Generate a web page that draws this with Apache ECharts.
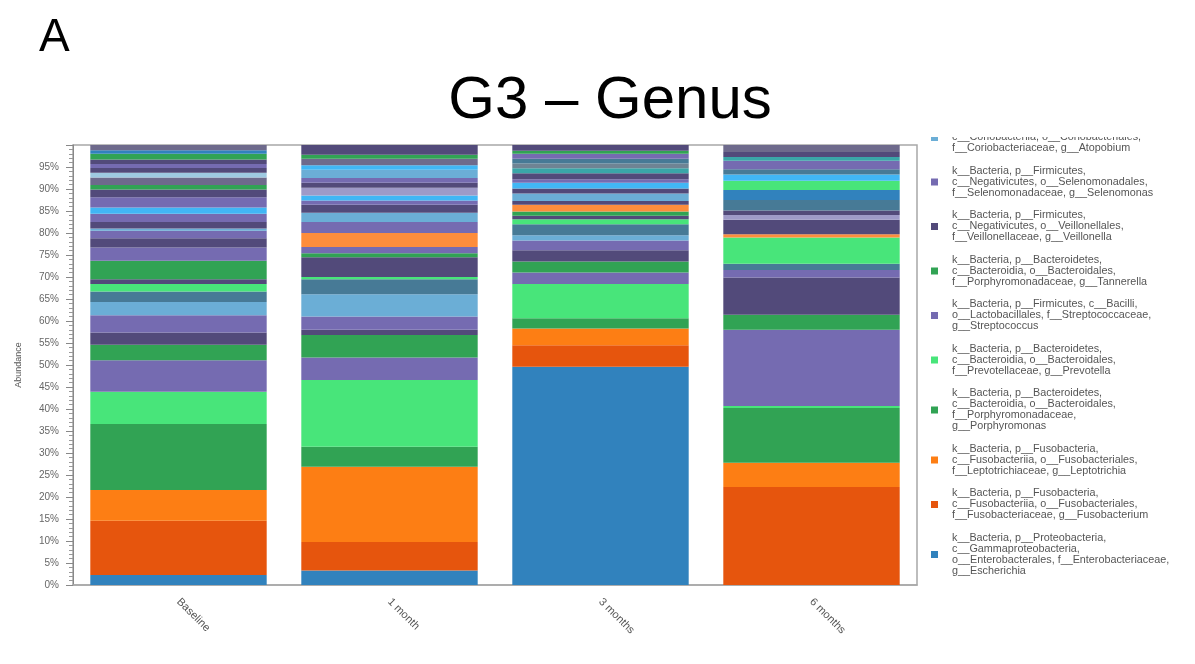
<!DOCTYPE html>
<html>
<head>
<meta charset="utf-8">
<script src="https://cdn.jsdelivr.net/npm/echarts@6/dist/echarts.min.js"></script>
<style>
html,body{margin:0;padding:0;background:#fff;}
#chart{width:1195px;height:664px;}
</style>
</head>
<body>
<div id="chart"></div>
<script>
// ---- data ----
const categories = ['Baseline', '1 month', '3 months', '6 months'];
const yTickValues = [0,5,10,15,20,25,30,35,40,45,50,55,60,65,70,75,80,85,90,95];

// named genera (bottom of stack first), % abundance per category
const escherichia   = [2.3, 3.3, 49.6, 0];
const fusobacterium = [12.3, 6.5, 4.9, 22.3];
const leptotrichia  = [7.0, 17.1, 3.8, 5.5];
const porphyromonas = [15.0, 4.5, 2.3, 12.4];
const prevotella    = [7.3, 15.2, 7.8, 0.5];
const streptococcus = [7.2, 5.1, 2.6, 17.3];
const tannerella    = [3.5, 5.1, 2.5, 3.4];
const veillonella   = [2.8, 1.2, 2.6, 8.5];
const selenomonas   = [3.9, 3.0, 2.2, 1.7];
const atopobium     = [3.0, 5.1, 1.2, 0];

const namedGenera = ['g__Escherichia','g__Fusobacterium','g__Leptotrichia','g__Porphyromonas','g__Prevotella',
  'g__Streptococcus','g__Tannerella','g__Veillonella','g__Selenomonas','g__Atopobium'];
const namedValues = [escherichia, fusobacterium, leptotrichia, porphyromonas, prevotella,
  streptococcus, tannerella, veillonella, selenomonas, atopobium];

// legend taxonomy labels
const legendLabels = {
  'g__Atopobium': ['k__Bacteria, p__Actinobacteria,', 'c__Coriobacteriia, o__Coriobacteriales,', 'f__Coriobacteriaceae, g__Atopobium'],
  'g__Selenomonas': ['k__Bacteria, p__Firmicutes,', 'c__Negativicutes, o__Selenomonadales,', 'f__Selenomonadaceae, g__Selenomonas'],
  'g__Veillonella': ['k__Bacteria, p__Firmicutes,', 'c__Negativicutes, o__Veillonellales,', 'f__Veillonellaceae, g__Veillonella'],
  'g__Tannerella': ['k__Bacteria, p__Bacteroidetes,', 'c__Bacteroidia, o__Bacteroidales,', 'f__Porphyromonadaceae, g__Tannerella'],
  'g__Streptococcus': ['k__Bacteria, p__Firmicutes, c__Bacilli,', 'o__Lactobacillales, f__Streptococcaceae,', 'g__Streptococcus'],
  'g__Prevotella': ['k__Bacteria, p__Bacteroidetes,', 'c__Bacteroidia, o__Bacteroidales,', 'f__Prevotellaceae, g__Prevotella'],
  'g__Porphyromonas': ['k__Bacteria, p__Bacteroidetes,', 'c__Bacteroidia, o__Bacteroidales,', 'f__Porphyromonadaceae,', 'g__Porphyromonas'],
  'g__Leptotrichia': ['k__Bacteria, p__Fusobacteria,', 'c__Fusobacteriia, o__Fusobacteriales,', 'f__Leptotrichiaceae, g__Leptotrichia'],
  'g__Fusobacterium': ['k__Bacteria, p__Fusobacteria,', 'c__Fusobacteriia, o__Fusobacteriales,', 'f__Fusobacteriaceae, g__Fusobacterium'],
  'g__Escherichia': ['k__Bacteria, p__Proteobacteria,', 'c__Gammaproteobacteria,', 'o__Enterobacterales, f__Enterobacteriaceae,', 'g__Escherichia']
};

// minor genera stacked above (unlabelled in the visible legend), values per category
const minorValues = [
  [2.4, 3.4, 2.5, 1.4],
  [1.7, 0.5, 1.1, 6.0],
  [1.1, 4.5, 0.8, 0],
  [4.2, 0.9, 1.0, 0],
  [3.0, 1.4, 0, 0],
  [0, 3.2, 1.5, 0.7],
  [2.1, 0, 0.9, 3.3],
  [1.7, 2.5, 0, 0],
  [0.5, 2.1, 1.7, 0],
  [0, 0, 0, 1.1],
  [1.5, 1.8, 1.1, 1.0],
  [1.9, 1.0, 0, 0],
  [0, 0, 0, 2.4],
  [0, 0, 0, 2.3],
  [0, 0, 0, 2.1],
  [1.4, 1.1, 1.3, 1.4],
  [0, 0, 0, 1.2],
  [2.3, 0, 0.8, 1.9],
  [0, 1.8, 0, 0],
  [1.8, 1.1, 1.4, 0],
  [1.0, 0, 0, 0],
  [0, 0, 1.1, 0.9],
  [0, 0, 1.1, 0],
  [0, 0, 1.1, 0],
  [0, 1.1, 1.1, 0],
  [0, 1.9, 0, 0],
  [0, 1.0, 0, 0],
  [1.7, 1.5, 0, 0],
  [1.1, 0, 0, 0],
  [1.1, 0, 0, 1.1],
  [0.9, 0, 0, 0],
  [1.0, 0, 0, 0],
  [1.3, 0.9, 0.7, 0],
  [0, 2.2, 1.3, 0],
  [0.8, 0, 0, 0],
  [1.2, 0, 0, 1.6]
];

// ---- styles ----
const C = {
  B:'#3182bd', DO:'#e6550d', O:'#fd7e14', O2:'#fd8d3c', G:'#31a354', BG:'#48e57a',
  P:'#756bb1', N:'#524a7a', LB:'#6baed6', ST:'#477a96', SK:'#41b6f5', LV:'#9e9ac8',
  TE:'#3aa6a8', GR:'#6f8494', GP:'#6e6a8c', PB:'#9ecae1'
};
const namedColors = [C.B, C.DO, C.O, C.G, C.BG, C.P, C.G, C.N, C.P, C.LB];
const minorColors = ['ST','BG','N','G','P','O2','N','P','LB','LV','N','P','ST','B','BG','SK','ST','P','LV','N','G',
  'TE','GR','ST','P','LB','SK','GP','PB','N','P','N','G','N','B','GP'].map(k => C[k]);

const series = [];
namedGenera.forEach((n, i) => {
  series.push({ name: n, type: 'bar', stack: 'all', data: namedValues[i],
    itemStyle: { color: namedColors[i] }, barCategoryGap: '16.4%' });
});
minorValues.forEach((vals, i) => {
  series.push({ name: 'Genus ' + (i + 11), type: 'bar', stack: 'all', data: vals,
    itemStyle: { color: minorColors[i] }, barCategoryGap: '16.4%' });
});

const chart = echarts.init(document.getElementById('chart'), null, { renderer: 'canvas' });
chart.setOption({
  animation: false,
  backgroundColor: '#fff',
  textStyle: { fontFamily: 'Liberation Sans, Arial, sans-serif' },
  title: [
    { text: 'A', left: 34, top: 10, textStyle: { fontSize: 46, fontWeight: 'normal', color: '#000' } },
    { text: 'G3 – Genus', left: 605, textAlign: 'center', top: 66,
      textStyle: { fontSize: 60, fontWeight: 'normal', color: '#000' } }
  ],
  legend: {
    orient: 'vertical', left: 931, top: 121, padding: 0,
    itemWidth: 7, itemHeight: 7, itemGap: 11.5, icon: 'rect',
    data: namedGenera.slice().reverse(),
    formatter: name => legendLabels[name].join('\n'),
    textStyle: { fontSize: 10.8, lineHeight: 11, color: '#555', padding: [0, 0, 0, 9] },
    selectedMode: false
  },
  graphic: [
    { type: 'rect', left: 920, top: 0, z: 100, shape: { width: 275, height: 137 }, style: { fill: '#fff' } }
  ],
  grid: { left: 73, right: 278, top: 145, bottom: 79, show: true, borderColor: '#a8a8a8', borderWidth: 1.5 },
  xAxis: {
    type: 'category', data: categories,
    axisLine: { show: true, lineStyle: { color: '#a8a8a8', width: 1.5 } },
    axisTick: { show: false },
    axisLabel: { rotate: -45, margin: 15, fontSize: 11, color: '#555', interval: 0 }
  },
  yAxis: {
    type: 'value', min: 0, max: 100, interval: 5,
    name: 'Abundance', nameLocation: 'middle', nameGap: 50, nameRotate: 90,
    nameTextStyle: { fontSize: 9, color: '#555' },
    axisLine: { show: true, lineStyle: { color: '#888' } },
    axisTick: { show: true, length: 7, lineStyle: { color: '#888' } },
    minorTick: { show: true, splitNumber: 5, length: 4, lineStyle: { color: '#999' } },
    splitLine: { show: false },
    axisLabel: { fontSize: 10, color: '#666', margin: 14,
      formatter: v => (yTickValues.indexOf(v) >= 0 ? v + '%' : '') }
  },
  series: series
});
</script>
</body>
</html>
